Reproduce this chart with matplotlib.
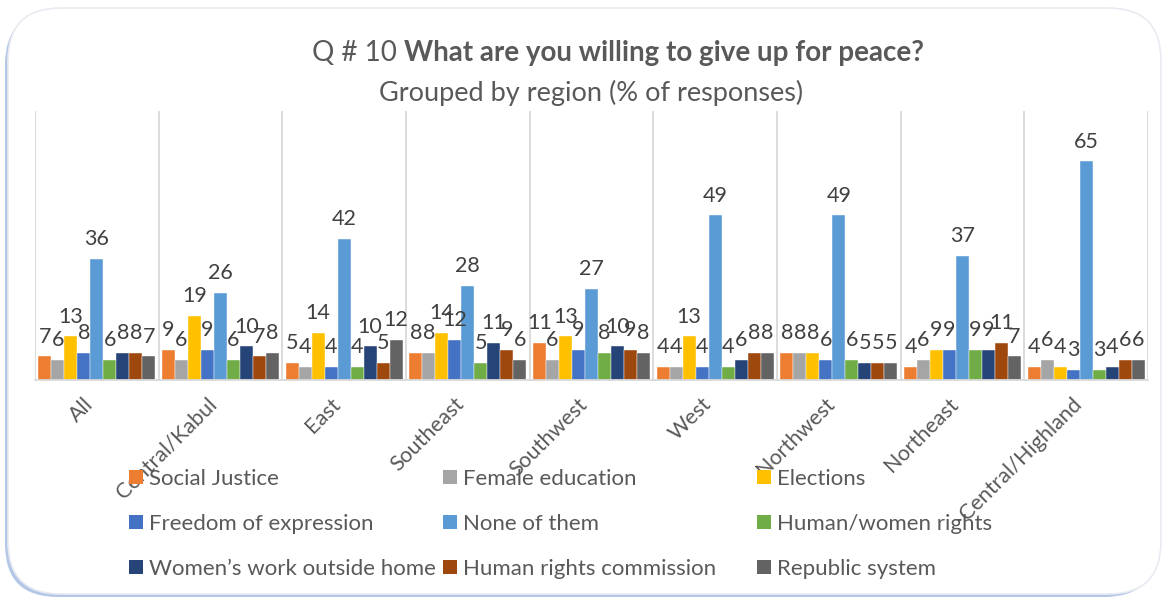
import numpy as np
import matplotlib.pyplot as plt
from matplotlib.patches import FancyBboxPatch, Patch

# categories on the x axis
regions = ['All', 'Central/Kabul', 'East', 'Southeast', 'Southwest', 'West',
           'Northwest', 'Northeast', 'Central/Highland']

# one list per answer, values in % per region
social_justice = [7, 9, 5, 8, 11, 4, 8, 4, 4]
female_education = [6, 6, 4, 8, 6, 4, 8, 6, 6]
elections = [13, 19, 14, 14, 13, 13, 8, 9, 4]
freedom_of_expression = [8, 9, 4, 12, 9, 4, 6, 9, 3]
none_of_them = [36, 26, 42, 28, 27, 49, 49, 37, 65]
human_women_rights = [6, 6, 4, 5, 8, 4, 6, 9, 3]
womens_work = [8, 10, 10, 11, 10, 6, 5, 9, 4]
human_rights_commission = [8, 7, 5, 9, 9, 8, 5, 11, 6]
republic_system = [7, 8, 12, 6, 8, 8, 5, 7, 6]

series_names = ['Social Justice', 'Female education', 'Elections',
                'Freedom of expression', 'None of them', 'Human/women rights',
                'Women\u2019s work outside home', 'Human rights commission',
                'Republic system']
series_values = [social_justice, female_education, elections,
                 freedom_of_expression, none_of_them, human_women_rights,
                 womens_work, human_rights_commission, republic_system]
colors = ['#ED7D31', '#A5A5A5', '#FFC000', '#4472C4', '#5B9BD5', '#70AD47',
          '#264478', '#9E480E', '#636363']

plt.rcParams['font.family'] = ['Lato', 'DejaVu Sans']

W, H = 1169, 601
fig = plt.figure(figsize=(W / 100, H / 100), dpi=100)

# rounded frame with blue-ish shadow on the left / bottom
shadow = FancyBboxPatch((5 / W, 4 / H), 1152 / W, 585 / H,
                        boxstyle='round,pad=0,rounding_size=0.045',
                        transform=fig.transFigure, facecolor='#b4c7e7',
                        edgecolor='none', mutation_aspect=W / H, zorder=-3)
frame = FancyBboxPatch((8 / W, 7 / H), 1153 / W, 586 / H,
                       boxstyle='round,pad=0,rounding_size=0.045',
                       transform=fig.transFigure, facecolor='white',
                       edgecolor='#e8ebf1', linewidth=1.2, mutation_aspect=W / H,
                       zorder=-2)
fig.patches.extend([shadow, frame])

ax = fig.add_axes([35 / W, 1 - 380 / H, (1148 - 35) / W, (380 - 111) / H])
ax.set_facecolor('none')

x = np.arange(len(regions))
width = 0.105
for i, (name, vals, c) in enumerate(zip(series_names, series_values, colors)):
    bars = ax.bar(x + (i - 4) * width, vals, width, color=c, label=name,
                  edgecolor='white', linewidth=0.3)
    ax.bar_label(bars, padding=7, fontsize=15.5, color='#404040')

ax.set_xlim(-0.5, len(regions) - 0.5)
ax.set_ylim(0, 80)
ax.vlines(np.arange(len(regions) + 1) - 0.5, 0, 80, color='#d9d9d9', lw=1.3, zorder=0)
for s in ['top', 'left', 'right']:
    ax.spines[s].set_visible(False)
ax.spines['bottom'].set_color('#d9d9d9')
ax.spines['bottom'].set_linewidth(1.3)
ax.set_yticks([])
ax.set_xticks(x)
ax.set_xticklabels(regions, rotation=45, ha='right', fontsize=15.5, color='#595959')
ax.tick_params(axis='x', length=0, pad=10)

# title: regular part + bold part, centred together
title_y = 1 - 53 / H
t1 = fig.text(0, title_y, 'Q # 10 ', fontsize=20, color='#595959',
              va='center', ha='left')
t2 = fig.text(0, title_y, 'What are you willing to give up for peace?',
              fontsize=20, fontweight='bold', color='#595959', va='center', ha='left')
fig.canvas.draw()
w1 = t1.get_window_extent().width
w2 = t2.get_window_extent().width
x0 = 0.5 * (313 + 922) - 0.5 * (w1 + w2)
t1.set_x(x0 / W)
t2.set_x((x0 + w1) / W)
fig.text(0.5 * (378 + 805) / W, 1 - 93 / H, 'Grouped by region (% of responses)',
         fontsize=19.5, color='#595959', va='center', ha='center')

# legend: three columns, filled row by row
handles = [Patch(facecolor=c) for c in colors]
col_x = [129, 443, 757]
for k in range(3):
    idx = [k, k + 3, k + 6]
    fig.legend([handles[j] for j in idx], [series_names[j] for j in idx],
               loc='upper left', bbox_to_anchor=(col_x[k] / W, 1 - 469 / H),
               frameon=False, fontsize=16, labelcolor='#595959',
               handlelength=0.62, handleheight=0.62, handletextpad=0.3,
               labelspacing=1.12, borderaxespad=0, borderpad=0)

fig.savefig('out.png', dpi=100)
